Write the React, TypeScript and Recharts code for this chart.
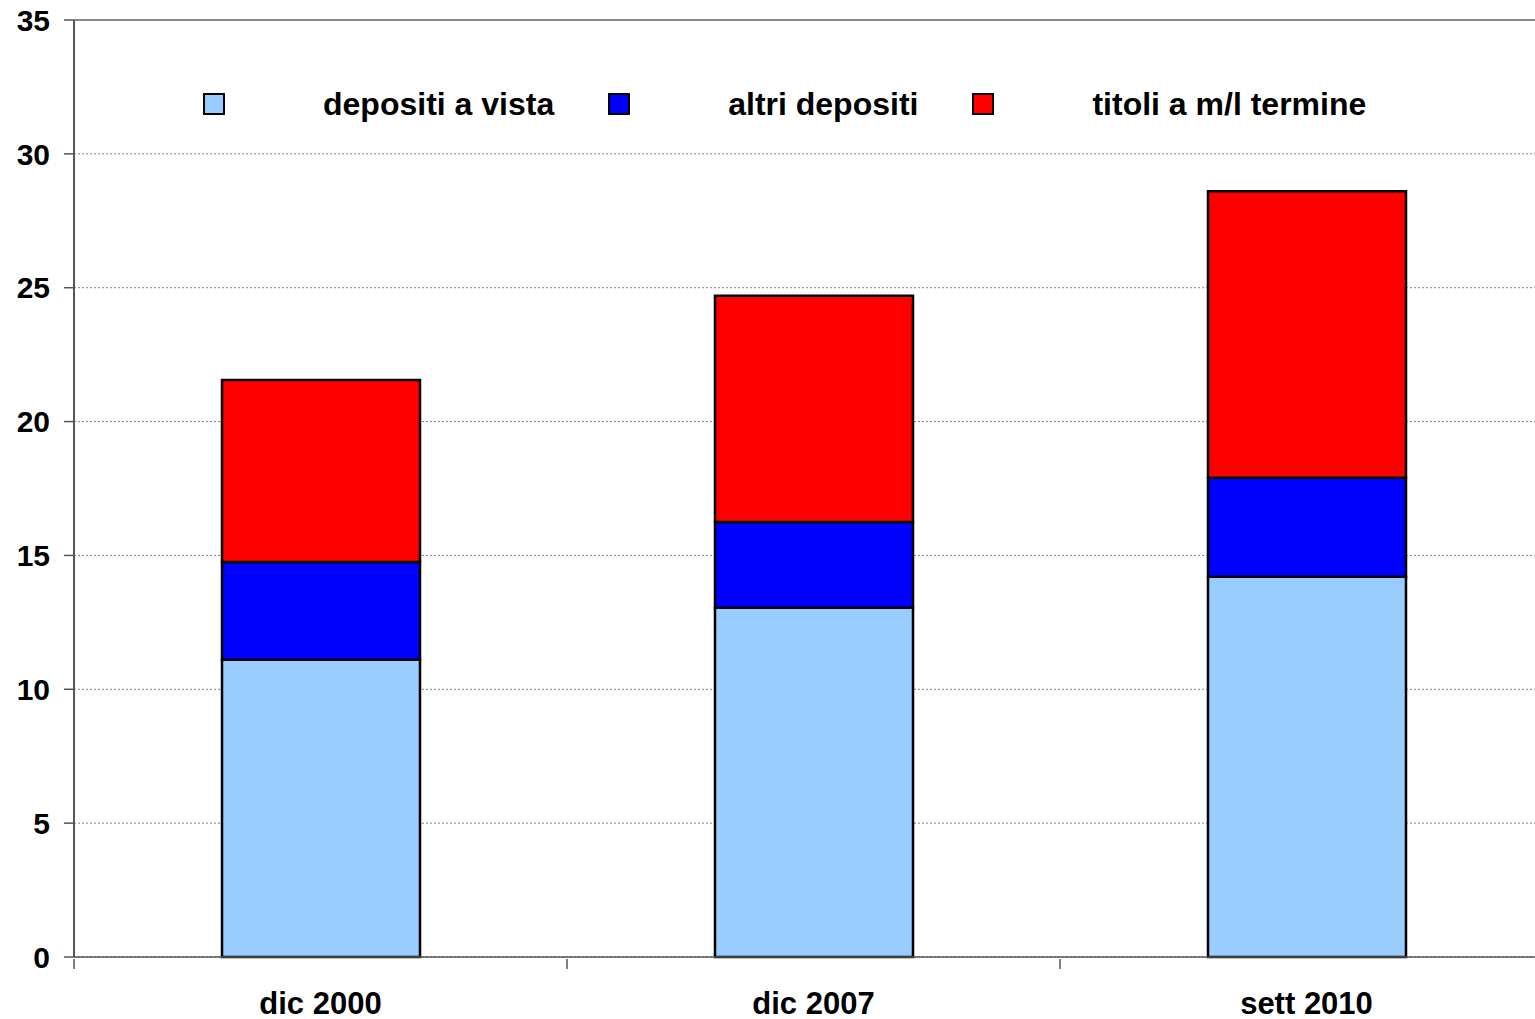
import { BarChart, Bar, XAxis, YAxis, CartesianGrid, ReferenceLine } from "recharts";

const CATEGORIES = ["dic 2000", "dic 2007", "sett 2010"];
const DEPOSITI_VISTA = [11.1, 13.05, 14.2];
const ALTRI_DEPOSITI = [3.65, 3.2, 3.7];
const TITOLI_ML = [6.8, 8.45, 10.7];
const Y_TICKS = [0, 5, 10, 15, 20, 25, 30, 35];

const SERIES = [
  { key: "vista", name: "depositi a vista", color: "#99CCFF" },
  { key: "altri", name: "altri depositi", color: "#0000FF" },
  { key: "titoli", name: "titoli a m/l termine", color: "#FF0000" },
];

const data = CATEGORIES.map((c, i) => ({
  name: c,
  vista: DEPOSITI_VISTA[i],
  altri: ALTRI_DEPOSITI[i],
  titoli: TITOLI_ML[i],
}));

const FONT = "'Liberation Sans', Arial, sans-serif";
const CHART_W = 1553;
const LEFT = 74;
const BAND = (CHART_W - LEFT) / CATEGORIES.length;

// category ticks sit on the band boundaries, labels in the middle
const XTick = (p: any) => {
  const { x, y, payload } = p;
  return (
    <g>
      <line x1={x - BAND / 2} x2={x - BAND / 2} y1={y} y2={y + 10} stroke="#555" strokeWidth={1.5} />
      <text x={x} y={y + 44} textAnchor="middle" dominantBaseline="central"
        fontFamily={FONT} fontWeight="bold" fontSize={31} fill="#000">
        {payload.value}
      </text>
    </g>
  );
};

const LegendBox = () => (
  <div style={{ position: "absolute", left: 0, top: 86, display: "flex", alignItems: "center",
    fontFamily: FONT, fontWeight: "bold", fontSize: 32, lineHeight: "36px" }}>
    {SERIES.map((s, i) => (
      <div key={s.key} style={{ display: "flex", alignItems: "center", marginLeft: i === 0 ? 203 : 54 }}>
        <span style={{ width: 18, height: 18, background: s.color, border: "2px solid #000", display: "inline-block" }} />
        <span style={{ marginLeft: 98 }}>{s.name}</span>
      </div>
    ))}
  </div>
);

export default function App() {
  return (
    <div style={{ position: "absolute", left: 0, top: 0, width: 1535, height: 1019, overflow: "hidden", background: "#fff" }}>
      <BarChart width={CHART_W} height={1019} data={data} margin={{ top: 20, right: 0, bottom: 0, left: 0 }}>
        <CartesianGrid vertical={false} stroke="#808080" strokeDasharray="2 2" />
        <ReferenceLine y={35} stroke="#8a8a8a" strokeWidth={2} />
        <XAxis dataKey="name" height={62} tickSize={0} tickLine={false}
          axisLine={{ stroke: "#555", strokeWidth: 1.5 }} tick={<XTick />} interval={0} />
        <YAxis width={LEFT} domain={[0, 35]} ticks={Y_TICKS} tickSize={10} tickMargin={14}
          axisLine={{ stroke: "#555", strokeWidth: 2 }} tickLine={{ stroke: "#555", strokeWidth: 1.5 }}
          tick={{ fontFamily: FONT, fontWeight: "bold", fontSize: 30, fill: "#000" }} />
        {SERIES.map(s => (
          <Bar key={s.key} dataKey={s.key} name={s.name} stackId="a" fill={s.color}
            stroke="#000" strokeWidth={2.5} barSize={198} isAnimationActive={false} />
        ))}
      </BarChart>
      <LegendBox />
    </div>
  );
}
